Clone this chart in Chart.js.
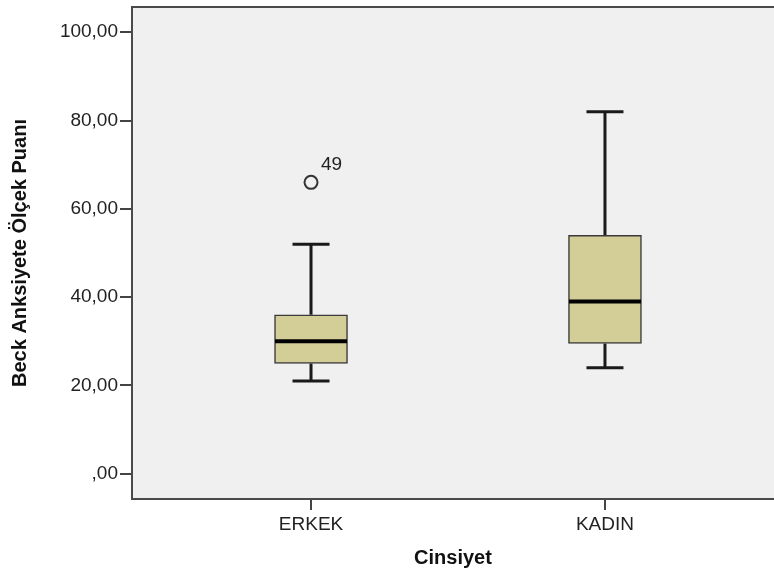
<!DOCTYPE html>
<html>
<head>
<meta charset="utf-8">
<script src="https://cdn.jsdelivr.net/npm/chart.js@4.4.0/dist/chart.umd.min.js"></script>
<style>
  html, body { margin: 0; padding: 0; background: #fff; overflow: hidden; }
  canvas { display: block; }
</style>
</head>
<body>
<canvas id="boxChart" width="774" height="571"></canvas>
<script>
// data
const categories = ['ERKEK', 'KADIN'];
const whiskerLow = [21, 24];
const q1 = [25, 29.5];
const medians = [30, 39];
const q3 = [36, 54];
const whiskerHigh = [52, 82];
const outlierCat = [0];
const outlierVal = [66];
const outlierIds = ['49'];
const yTicks = [0, 20, 40, 60, 80, 100];

const FONT = "'Liberation Sans', Arial, sans-serif";
const LINE = '#1a1a1a';

const boxData = categories.map((c, i) => ({ x: i, y: [q1[i], q3[i]] }));
const outlierData = outlierCat.map((c, i) => ({ x: c, y: outlierVal[i] }));

const boxPlotExtras = {
  id: 'boxPlotExtras',
  beforeDraw(chart) {
    const { ctx, chartArea: a } = chart;
    ctx.save();
    ctx.fillStyle = '#f0f0f0';
    ctx.fillRect(a.left, a.top, a.right - a.left, a.bottom - a.top);
    ctx.restore();
  },
  beforeDatasetsDraw(chart) {
    const { ctx, scales: { x, y } } = chart;
    ctx.save();
    ctx.strokeStyle = LINE;
    ctx.lineWidth = 3;
    categories.forEach((c, i) => {
      const px = x.getPixelForValue(i);
      ctx.beginPath();
      ctx.moveTo(px, y.getPixelForValue(whiskerLow[i]));
      ctx.lineTo(px, y.getPixelForValue(q1[i]));
      ctx.moveTo(px, y.getPixelForValue(q3[i]));
      ctx.lineTo(px, y.getPixelForValue(whiskerHigh[i]));
      ctx.stroke();
    });
    ctx.restore();
  },
  afterDatasetsDraw(chart) {
    const { ctx, chartArea: a, scales: { x, y } } = chart;
    ctx.save();
    ctx.strokeStyle = LINE;
    categories.forEach((c, i) => {
      const px = x.getPixelForValue(i);
      // caps
      ctx.lineWidth = 3;
      ctx.beginPath();
      [whiskerLow[i], whiskerHigh[i]].forEach(v => {
        const py = y.getPixelForValue(v);
        ctx.moveTo(px - 18.5, py);
        ctx.lineTo(px + 18.5, py);
      });
      ctx.stroke();
      // median
      ctx.lineWidth = 4;
      ctx.strokeStyle = '#000';
      ctx.beginPath();
      const my = y.getPixelForValue(medians[i]);
      ctx.moveTo(px - 36, my);
      ctx.lineTo(px + 36, my);
      ctx.stroke();
      ctx.strokeStyle = LINE;
    });
    // outlier case numbers
    ctx.fillStyle = '#222';
    ctx.font = '19px ' + FONT;
    ctx.textBaseline = 'alphabetic';
    outlierCat.forEach((c, i) => {
      const px = x.getPixelForValue(c);
      const py = y.getPixelForValue(outlierVal[i]);
      ctx.fillText(outlierIds[i], px + 10, py - 12);
    });
    // plot frame (right edge runs off the picture)
    ctx.strokeStyle = '#4a4a4a';
    ctx.lineWidth = 2;
    ctx.strokeRect(a.left, a.top, a.right - a.left + 20, a.bottom - a.top);
    ctx.restore();
  }
};

new Chart(document.getElementById('boxChart').getContext('2d'), {
  data: {
    datasets: [
      {
        type: 'bar',
        data: boxData,
        backgroundColor: '#d3ce97',
        borderColor: '#3a3a3a',
        borderWidth: 1.5,
        borderSkipped: false,
        barThickness: 73,
        grouped: false,
        order: 2
      },
      {
        type: 'scatter',
        data: outlierData,
        pointRadius: 6.5,
        pointBackgroundColor: '#f0f0f0',
        pointBorderColor: '#333',
        pointBorderWidth: 2,
        order: 1
      }
    ]
  },
  options: {
    responsive: false,
    animation: false,
    layout: { autoPadding: false, padding: { top: 7, left: 0, right: 0, bottom: 0 } },
    plugins: {
      legend: { display: false },
      tooltip: { enabled: false }
    },
    scales: {
      x: {
        type: 'linear',
        min: -0.609,
        max: 1.575,
        offset: false,
        afterBuildTicks: s => { s.ticks = categories.map((c, i) => ({ value: i })); },
        afterFit: s => { s.height = 72; s.paddingLeft = 0; s.paddingRight = 0; },
        grid: { offset: false, drawOnChartArea: false, drawTicks: true, tickLength: 11, color: '#444', lineWidth: 2 },
        border: { display: false },
        ticks: {
          color: '#222',
          font: { family: FONT, size: 19 },
          padding: 3,
          maxRotation: 0,
          callback: v => categories[v]
        },
        title: {
          display: true,
          text: 'Cinsiyet',
          color: '#111',
          font: { family: FONT, size: 20, weight: 'bold' },
          padding: { top: 0, bottom: 1 }
        }
      },
      y: {
        min: -5.7,
        max: 105.7,
        afterBuildTicks: s => { s.ticks = yTicks.map(v => ({ value: v })); },
        afterFit: s => { s.width = 132; s.paddingTop = 0; s.paddingBottom = 0; },
        grid: { drawOnChartArea: false, drawTicks: true, tickLength: 12, color: '#444', lineWidth: 2 },
        border: { display: false },
        ticks: {
          color: '#222',
          font: { family: FONT, size: 19 },
          padding: 2,
          callback: v => (v === 0 ? ',00' : v + ',00')
        },
        title: {
          display: true,
          text: 'Beck Anksiyete Ölçek Puanı',
          color: '#111',
          font: { family: FONT, size: 20, weight: 'bold' },
          padding: { top: 8, bottom: 0 }
        }
      }
    }
  },
  plugins: [boxPlotExtras]
});
</script>
</body>
</html>
